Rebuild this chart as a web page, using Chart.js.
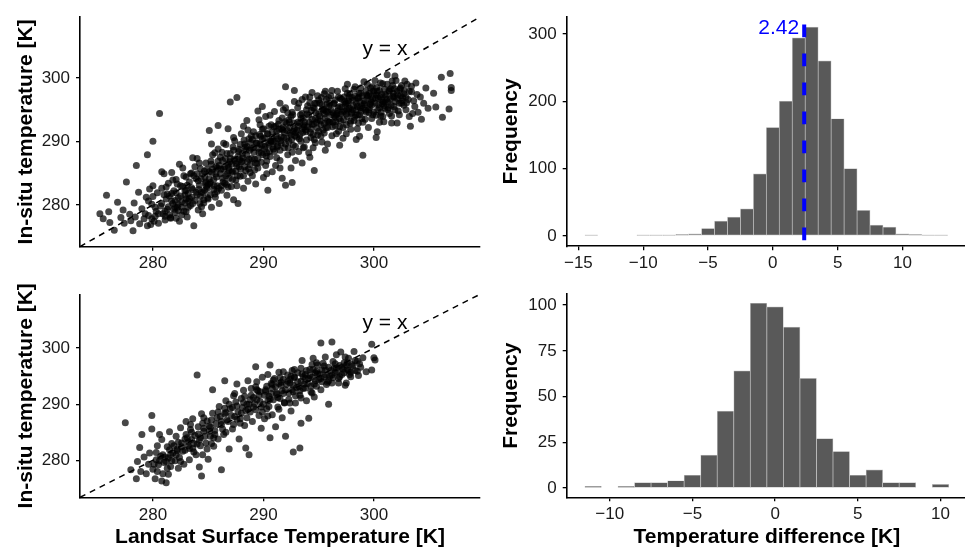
<!DOCTYPE html>
<html>
<head>
<meta charset="utf-8">
<script src="https://cdn.jsdelivr.net/npm/chart.js@4.4.1/dist/chart.umd.min.js"></script>
<style>
  html, body { margin: 0; padding: 0; background: #fff; width: 965px; height: 550px; overflow: hidden; }
  .panel { position: absolute; }
</style>
</head>
<body>
<div class="panel" style="left:0;top:0"><canvas id="scTop" width="490" height="280"></canvas></div>
<div class="panel" style="left:0;top:280px"><canvas id="scBot" width="490" height="270"></canvas></div>
<div class="panel" style="left:490px;top:0"><canvas id="hiTop" width="476" height="280"></canvas></div>
<div class="panel" style="left:490px;top:280px"><canvas id="hiBot" width="477" height="270"></canvas></div>
<script>
// Landsat LST vs in-situ temperature, [x, y] in K
const pointsTop = [
  [275.2,278.6],[275.8,281.5],[275.5,277.8],[276.1,277.2],[276.5,276.0],[276.0,278.9],
  [276.8,280.4],[277.1,278.0],[277.4,277.1],[277.6,283.6],[277.9,278.5],[277.3,279.2],[278.2,275.9],[278.0,277.5],[278.3,280.3],[278.5,286.2],[278.4,278.1],[278.7,282.0],
  [278.8,277.0],[279.0,279.4],[279.2,277.8],[279.4,281.2],[279.5,287.9],[279.6,278.3],[279.8,276.9],[279.9,280.1],[280.0,290.0],[280.0,283.0],[280.1,277.4],[280.3,279.0],[280.4,281.9],[280.2,278.2],[279.7,282.5],
  [280.6,294.4],[280.5,277.1],[280.7,279.8],[280.8,282.6],[280.9,278.6],[281.0,284.9],[281.1,277.6],[281.2,280.9],[281.3,279.3],[281.4,283.4],[281.5,281.4],[281.6,278.0],[280.8,285.2],
  [281.8,280.2],[281.9,282.2],[282.0,278.8],[282.1,284.0],[282.2,279.6],[282.3,281.1],[282.4,277.4],[282.5,283.0],[282.6,280.5],[282.7,285.8],[282.8,279.0],[282.9,282.2],[283.0,280.9],[283.0,284.4],[282.4,286.4],[281.7,285.1],
  [283.1,278.1],[283.2,281.8],[283.3,283.6],[283.4,279.9],[283.5,285.0],[283.6,282.4],[283.7,276.7],[283.8,280.7],[283.9,284.1],[284.0,287.3],[284.0,281.6],[284.1,279.2],[284.2,283.1],[284.3,285.7],[284.4,282.0],[284.5,278.6],[283.6,287.4],
  [284.6,280.3],[284.7,284.4],[284.8,286.6],[284.9,282.6],[285.0,280.9],[285.1,291.7],[285.1,285.2],[285.2,283.5],[285.3,279.6],[285.4,287.9],[285.5,284.0],[285.6,281.7],[285.7,286.0],[285.8,283.0],[285.9,292.5],[285.9,288.8],[286.0,280.2],[285.3,289.6],
  [286.1,284.9],[286.2,282.3],[286.3,287.0],[286.4,285.6],[286.5,283.4],[286.6,289.5],[286.7,281.5],[286.8,286.4],[286.9,284.2],[287.0,296.2],[287.0,288.1],[287.1,282.9],[287.2,285.3],[287.3,290.6],[287.4,287.0],[287.5,283.9],[286.8,292.0],[287.3,280.8],
  [287.6,296.9],[287.6,286.1],[287.7,280.2],[287.8,288.7],[287.9,284.5],[288.0,291.2],[288.1,286.9],[288.2,282.6],[288.3,289.6],[288.4,285.4],[288.5,293.3],[288.5,287.8],[288.6,283.7],[288.7,290.4],[288.8,286.3],[288.9,288.9],[289.0,284.6],[288.2,292.4],
  [289.1,291.5],[289.2,287.2],[289.3,283.3],[289.4,289.8],[289.5,294.8],[289.5,285.8],[289.6,288.3],[289.7,292.6],[289.8,286.7],[289.9,290.4],[290.0,284.3],[290.1,288.8],[290.2,293.9],[290.3,286.9],[290.4,282.3],[290.4,291.2],[290.5,289.5],[289.9,295.5],
  [290.6,287.6],[290.7,292.6],[290.8,285.2],[290.9,290.0],[291.0,294.7],[291.0,288.4],[291.1,286.2],[291.2,291.6],[291.3,289.3],[291.4,293.3],[291.5,287.0],[291.6,290.7],[291.7,284.2],[291.8,292.2],[291.9,289.0],[292.0,298.6],[292.0,283.1],[292.0,295.3],[291.5,296.0],
  [292.1,290.5],[292.2,287.9],[292.3,293.4],[292.4,291.3],[292.5,285.8],[292.6,294.6],[292.7,289.4],[292.8,298.0],[292.8,292.0],[292.9,287.0],[293.0,290.7],[293.1,295.3],[293.2,288.4],[293.3,292.9],[293.4,290.0],[293.5,296.6],[293.5,286.6],[292.6,283.5],
  [293.6,293.7],[293.7,289.1],[293.8,291.8],[293.9,295.0],[294.0,292.3],[294.1,288.2],[294.2,296.1],[294.3,290.6],[294.4,297.7],[294.4,293.5],[294.5,291.1],[294.6,285.4],[294.6,295.2],[294.7,289.8],[294.8,293.0],[294.9,297.2],[295.0,291.6],[295.0,294.3],[294.2,287.5],
  [295.1,296.0],[295.2,292.6],[295.3,289.9],[295.4,294.9],[295.5,297.5],[295.5,291.3],[295.6,293.7],[295.7,296.6],[295.8,289.6],[295.8,292.2],[295.9,295.4],[296.0,293.1],[296.1,297.2],[296.2,290.9],[296.3,294.5],[296.4,296.0],[296.5,292.5],[295.6,288.6],
  [296.6,294.2],[296.7,297.9],[296.8,291.6],[296.9,295.5],[297.0,293.2],[297.1,296.6],[297.2,290.5],[297.3,294.8],[297.4,298.3],[297.5,292.6],[297.5,296.0],[297.6,293.9],[297.7,295.1],[297.8,297.5],[297.9,291.9],[298.0,294.6],[296.9,289.4],[297.6,299.0],
  [298.1,296.5],[298.2,293.3],[298.3,298.6],[298.4,295.0],[298.5,292.0],[298.6,296.9],[298.7,290.8],[298.7,294.2],[298.8,297.6],[298.9,295.6],[299.0,287.8],[299.0,293.0],[299.1,299.4],[299.2,296.1],[299.3,294.6],[299.4,297.1],[299.5,292.2],[298.4,290.3],
  [299.6,295.3],[299.7,298.4],[299.8,293.6],[299.9,296.7],[300.0,294.6],[300.1,299.6],[300.2,297.3],[300.3,291.5],[300.4,295.8],[300.5,298.0],[300.6,294.0],[300.7,296.5],[300.8,299.1],[300.9,293.1],[301.0,297.4],[301.0,295.2],[300.2,290.6],
  [301.2,300.5],[301.3,296.2],[301.4,294.4],[301.5,298.3],[301.6,292.9],[301.7,297.1],[301.8,295.5],[302.0,299.6],[302.1,292.9],[302.1,296.8],[302.3,294.2],[302.4,298.4],[302.5,296.0],[301.9,300.3],
  [302.7,297.5],[302.9,295.0],[303.0,299.0],[303.2,293.9],[303.4,297.8],[303.6,296.4],[303.8,299.2],[304.0,294.6],[304.2,297.0],[304.5,296.0],[304.7,298.4],[304.9,295.2],[303.3,292.4],[304.3,293.5],
  [305.4,297.6],[305.6,295.4],[306.1,300.1],[306.2,293.8],[306.8,295.1],[306.9,300.7],[307.0,298.5],[307.0,298.0],
  // dense core
  [281.1,279.0],[281.3,281.7],[281.5,278.4],[281.7,280.6],[281.9,279.3],[281.2,282.8],[281.6,277.9],[281.8,283.9],
  [282.1,281.9],[282.3,279.1],[282.5,281.4],[282.7,282.9],[282.9,280.3],[282.2,283.3],[282.6,278.4],[282.8,284.6],[282.0,280.7],
  [283.1,283.1],[283.3,281.0],[283.5,282.7],[283.7,284.6],[283.9,282.0],[283.2,279.6],[283.6,280.2],[283.8,286.0],[283.4,284.9],[283.0,282.3],
  [284.1,283.8],[284.3,281.3],[284.5,284.9],[284.7,282.3],[284.9,285.6],[284.2,286.6],[284.6,280.8],[284.8,283.6],[284.4,279.7],[284.0,284.9],
  [285.1,284.1],[285.3,286.4],[285.5,282.4],[285.7,284.9],[285.9,286.9],[285.2,281.6],[285.6,288.2],[285.8,282.1],[285.4,285.6],[285.0,283.2],
  [286.1,287.5],[286.3,284.2],[286.5,286.0],[286.7,288.1],[286.9,285.4],[286.2,283.0],[286.6,284.6],[286.8,282.8],[286.4,289.7],[286.0,286.2],
  [287.1,286.4],[287.3,288.6],[287.5,285.3],[287.7,287.6],[287.9,289.5],[287.2,284.0],[287.6,283.0],[287.8,286.0],[287.4,290.1],[287.0,287.3],
  [288.1,288.1],[288.3,286.0],[288.5,289.2],[288.7,287.2],[288.9,290.9],[288.2,284.6],[288.6,291.8],[288.8,285.1],[288.4,288.6],[288.0,286.8],
  [289.1,289.0],[289.3,290.9],[289.5,287.3],[289.7,289.6],[289.9,291.9],[289.2,285.5],[289.6,293.4],[289.8,288.2],[289.4,286.5],[289.0,290.3],
  [290.1,290.5],[290.3,288.2],[290.5,292.4],[290.7,290.0],[290.9,288.8],[290.2,286.2],[290.6,294.1],[290.8,291.5],[290.4,289.8],[290.0,292.0],[290.3,284.9],
  [291.1,292.4],[291.3,290.4],[291.5,288.6],[291.7,293.7],[291.9,291.4],[291.2,287.4],[291.6,289.7],[291.8,295.0],[291.4,291.9],[291.0,290.0],[291.5,285.8],
  [292.1,292.8],[292.3,290.0],[292.5,293.9],[292.7,291.6],[292.9,289.2],[292.2,294.5],[292.6,288.3],[292.8,296.3],[292.4,292.2],[292.0,289.6],[292.5,291.0],
  [293.1,293.0],[293.3,291.0],[293.5,294.4],[293.7,292.3],[293.9,290.2],[293.2,296.0],[293.6,289.0],[293.8,297.0],[293.4,293.6],[293.0,291.8],[293.5,292.0],
  [294.1,294.1],[294.3,292.0],[294.5,295.3],[294.7,293.6],[294.9,291.0],[294.2,297.0],[294.6,290.3],[294.8,296.0],[294.4,292.7],[294.0,295.6],[294.5,289.0],
  [295.1,294.0],[295.3,295.8],[295.5,292.8],[295.7,294.7],[295.9,296.9],[295.2,290.8],[295.6,297.9],[295.8,293.2],[295.4,291.8],[295.0,296.5],[295.5,295.0],
  [296.1,295.0],[296.3,293.0],[296.5,296.5],[296.7,294.8],[296.9,292.3],[296.2,298.0],[296.6,291.2],[296.8,297.0],[296.4,294.0],[296.0,296.0],[296.5,293.8],
  [297.1,295.4],[297.3,297.0],[297.5,294.3],[297.7,296.4],[297.9,293.2],[297.2,292.2],[297.6,297.6],[297.8,295.2],[297.4,295.9],[297.0,294.3],[297.5,291.2],
  [298.1,295.0],[298.3,297.1],[298.5,294.2],[298.7,296.3],[298.9,293.6],[298.2,298.2],[298.6,292.9],[298.8,298.4],[298.4,296.0],[298.0,296.9],[298.5,295.5],
  [299.1,296.4],[299.3,298.0],[299.5,295.0],[299.7,296.6],[299.9,294.2],[299.2,293.5],[299.6,297.6],[299.8,295.7],[299.4,299.0],[299.0,295.2],[299.5,297.2],
  [300.1,296.0],[300.3,297.9],[300.5,295.3],[300.7,297.4],[300.9,295.6],[300.2,294.1],[300.6,299.2],[300.8,293.9],[300.4,296.8],[300.0,297.6],[300.5,293.0],
  [301.1,297.2],[301.3,295.3],[301.5,296.7],[301.7,298.8],[301.9,295.0],[301.2,299.0],[301.6,294.0],[301.8,297.0],[301.4,297.9],[301.0,296.2],
  [302.1,297.9],[302.3,296.0],[302.5,298.8],[302.7,295.7],[302.9,297.0],[302.2,294.8],[302.6,296.9],[302.8,299.5],[302.4,297.2],
  [303.1,296.6],[303.4,298.7],[303.7,295.5],[303.9,297.4],[303.2,297.9],[303.5,294.4],
  // darkest part of the band
  [284.15,282.4],[284.35,284.1],[284.55,281.9],[284.75,283.4],[284.95,281.1],[284.25,280.2],[284.65,285.3],[284.85,282.9],
  [285.15,283.3],[285.35,285.1],[285.55,283.0],[285.75,284.4],[285.95,282.6],[285.25,286.9],[285.65,281.2],[285.85,285.8],
  [286.15,285.6],[286.35,283.6],[286.55,287.3],[286.75,284.9],[286.95,286.8],[286.25,288.3],[286.65,283.2],[286.85,285.9],
  [287.15,285.1],[287.35,287.2],[287.55,286.5],[287.75,288.4],[287.95,285.6],[287.25,289.1],[287.65,284.6],[287.85,287.1],
  [288.15,287.4],[288.35,289.1],[288.55,286.8],[288.75,288.6],[288.95,287.3],[288.25,290.2],[288.65,285.7],[288.85,289.9],
  [289.15,288.3],[289.35,289.7],[289.55,288.9],[289.75,290.8],[289.95,287.9],[289.25,286.6],[289.65,291.1],[289.85,289.4],
  [290.15,289.2],[290.35,291.2],[290.55,288.4],[290.75,290.6],[290.95,292.3],[290.25,287.7],[290.65,290.1],[290.85,289.1],
  [291.15,290.9],[291.35,292.7],[291.55,290.1],[291.75,291.8],[291.95,293.1],[291.25,289.1],[291.65,292.0],[291.85,290.6],
  [292.15,291.7],[292.35,293.0],[292.55,290.3],[292.75,292.9],[292.95,291.4],[292.25,289.0],[292.65,294.2],[292.85,290.9],
  [293.15,292.4],[293.35,294.2],[293.55,291.4],[293.75,293.0],[293.95,294.3],[293.25,290.4],[293.65,292.6],[293.85,291.5],
  [294.15,293.0],[294.35,294.9],[294.55,292.7],[294.75,294.5],[294.95,293.4],[294.25,291.4],[294.65,296.0],[294.85,292.1],
  [295.15,293.2],[295.35,295.1],[295.55,294.3],[295.75,295.9],[295.95,293.0],[295.25,296.9],[295.65,292.2],[295.85,294.6],
  [296.15,294.2],[296.35,295.9],[296.55,293.1],[296.75,295.3],[296.95,296.8],[296.25,292.3],[296.65,294.4],[296.85,293.6],
  [297.15,294.6],[297.35,296.3],[297.55,295.0],[297.75,297.0],[297.95,294.4],[297.25,293.4],[297.65,296.0],[297.85,292.9],
  [298.15,295.6],[298.35,294.1],[298.55,296.8],[298.75,295.3],[298.95,297.2],[298.25,293.8],[298.65,297.6],[298.85,294.7],
  [299.15,295.8],[299.35,297.3],[299.55,294.5],[299.75,296.2],[299.95,297.9],[299.25,294.9],[299.65,295.9],[299.85,298.6],
  [300.15,296.8],[300.35,295.0],[300.55,297.0],[300.75,295.9],[300.95,298.2],[300.25,298.5],[300.65,294.6],[300.85,296.2],
  [301.15,296.6],[301.35,298.0],[301.55,295.7],[301.75,297.6],[301.95,296.3],[301.25,295.0],[301.65,299.5],[301.85,298.3],
  [302.15,297.3],[302.35,298.2],[302.55,296.4],[302.75,298.0],[302.95,296.1],
  [279.3,278.6],[279.6,280.6],[279.9,277.8],[280.2,279.6],[280.5,278.6],[280.8,280.2],[281.1,278.2],[281.4,279.7],[281.7,281.8],[282.0,279.6],
  [282.3,280.1],[282.6,279.6],[282.9,281.5],[283.2,280.6],[283.5,281.2],[280.0,281.3],[281.0,281.6],[282.1,277.9],[283.0,278.9],[279.5,276.7]
];
const pointsBot = [
  [277.5,286.7],[278.0,278.3],[278.5,276.7],[278.6,279.8],[278.8,282.3],[279.0,284.6],[278.9,278.0],[279.2,280.6],[279.4,277.6],[279.6,279.3],[279.9,288.0],[279.9,285.6],[279.7,281.3],
  [280.0,278.4],[280.2,276.7],[280.3,280.1],[280.4,282.6],[280.5,279.2],[280.6,284.6],[280.8,276.3],[280.8,283.7],[280.9,281.0],[281.0,279.6],[281.2,276.0],[281.3,282.4],[281.4,280.4],[281.5,285.1],
  [281.6,278.9],[281.7,283.0],[281.8,281.3],[282.0,279.9],[282.1,284.3],[282.2,282.0],[282.4,280.5],[282.5,285.8],[282.6,283.1],[282.8,279.3],[282.9,281.8],[283.0,284.6],[283.0,286.9],
  [283.2,282.6],[283.3,280.1],[283.4,285.5],[283.5,283.7],[283.6,287.4],[283.7,281.5],[283.8,284.4],[284.0,295.2],[284.0,282.9],[284.1,286.0],[284.2,278.8],[284.3,284.0],[284.4,277.2],[284.4,288.3],[284.5,281.0],
  [284.6,285.7],[284.8,283.1],[284.9,287.0],[285.0,280.2],[285.1,286.1],[285.2,284.3],[285.4,292.6],[285.4,288.4],[285.5,282.5],[285.6,285.3],[285.8,287.6],[285.9,283.8],[286.0,289.6],[286.2,278.3],[286.2,286.4],
  [286.4,284.6],[286.5,294.2],[286.5,288.3],[286.6,290.6],[286.8,286.9],[286.9,282.0],[287.0,289.2],[287.2,285.6],[287.3,291.5],[287.4,287.8],[287.6,293.6],[287.6,289.7],[287.8,283.8],[287.9,286.6],[288.0,291.0],[288.0,288.4],
  [288.2,292.5],[288.3,286.2],[288.4,282.2],[288.5,290.0],[288.6,294.2],[288.7,281.0],[288.8,288.6],[288.9,291.6],[289.0,286.9],[289.1,289.5],[289.3,296.7],[289.3,293.1],[289.4,290.8],[289.6,288.0],[289.7,292.2],[289.8,285.7],[289.9,294.8],[290.0,290.0],
  [290.1,287.4],[290.2,292.6],[290.3,289.2],[290.4,295.3],[290.5,291.4],[290.6,297.0],[290.6,284.0],[290.7,293.7],[290.8,288.1],[290.9,290.8],[291.0,294.6],[291.1,286.0],[291.2,292.0],[291.3,289.5],[291.4,295.7],[291.5,291.0],[291.6,293.4],[291.7,287.6],[291.8,294.4],[291.9,290.3],[292.0,284.3],[292.0,292.6],
  [292.2,295.2],[292.3,290.9],[292.4,293.8],[292.5,288.8],[292.6,296.0],[292.7,281.5],[292.7,292.2],[292.8,294.7],[292.9,290.2],[293.0,293.0],[293.1,295.6],[293.3,282.2],[293.3,291.6],[293.4,286.6],[293.4,294.1],[293.5,297.8],[293.6,292.8],[293.8,295.3],[293.9,290.6],[294.0,293.7],
  [294.1,287.5],[294.2,296.2],[294.3,292.2],[294.4,294.8],[294.5,298.2],[294.6,291.3],[294.7,295.6],[294.8,293.2],[294.9,297.0],[295.0,294.4],[295.2,300.9],[295.2,292.6],[295.3,296.1],[295.5,294.9],[295.6,298.4],[295.7,293.5],[295.9,290.0],[295.9,296.6],[296.0,295.0],
  [296.2,301.1],[296.2,293.8],[296.3,297.6],[296.5,295.6],[296.6,298.8],[296.8,294.6],[296.9,296.9],[297.0,299.3],[297.1,295.3],[297.3,297.4],[297.4,293.4],[297.5,293.8],[297.6,296.2],[297.7,298.2],[297.9,295.7],[298.0,297.1],
  [298.2,299.4],[298.3,296.0],[298.5,297.7],[298.6,295.1],[298.8,296.6],[299.0,298.3],[299.3,295.8],[299.8,300.7],[299.8,296.1],[300.1,297.9],[300.0,298.3],
  // dense core
  [280.1,279.3],[280.4,278.0],[280.7,280.7],[280.9,277.6],[280.3,281.4],[280.6,279.9],
  [281.1,280.6],[281.3,278.6],[281.5,281.9],[281.7,279.9],[281.9,282.6],[281.4,277.5],
  [282.1,281.0],[282.3,283.2],[282.5,279.8],[282.7,281.6],[282.9,283.8],[282.3,278.6],
  [283.1,284.0],[283.3,282.1],[283.5,285.0],[283.7,283.0],[283.9,281.0],[283.4,286.4],
  [284.1,284.7],[284.3,282.6],[284.5,286.6],[284.7,284.3],[284.9,282.0],[284.6,287.6],
  [285.1,285.2],[285.3,287.2],[285.5,284.0],[285.7,286.5],[285.9,288.6],[285.3,283.0],
  [286.1,287.8],[286.3,285.6],[286.5,289.3],[286.7,287.2],[286.9,290.0],[286.6,285.0],
  [287.1,288.0],[287.3,286.4],[287.5,290.4],[287.7,288.6],[287.9,287.4],[287.4,291.9],
  [288.1,289.4],[288.3,291.4],[288.5,287.6],[288.7,290.0],[288.9,292.8],[288.4,288.9],
  [289.1,291.2],[289.3,289.0],[289.5,292.4],[289.7,290.5],[289.9,288.6],[289.4,294.0],
  [290.1,291.6],[290.3,293.2],[290.5,289.6],[290.7,291.9],[290.9,294.3],[290.4,290.6],[290.8,292.8],
  [291.1,293.1],[291.3,291.2],[291.5,294.7],[291.7,292.4],[291.9,290.2],[291.4,293.7],[291.8,295.8],
  [292.1,293.5],[292.3,292.0],[292.5,295.0],[292.7,293.4],[292.9,291.5],[292.4,294.4],[292.8,296.2],
  [293.1,294.0],[293.3,292.4],[293.5,295.4],[293.7,293.6],[293.9,296.0],[293.4,291.1],[293.8,294.6],
  [294.1,294.6],[294.3,293.2],[294.5,296.2],[294.7,294.2],[294.9,295.4],[294.4,292.0],[294.8,297.4],
  [295.1,295.4],[295.3,294.0],[295.5,296.8],[295.7,295.2],[295.9,294.2],[295.4,297.3],
  [296.1,296.0],[296.3,294.7],[296.5,297.2],[296.7,295.8],[296.9,294.9],[296.4,296.4],
  [297.1,296.6],[297.3,295.6],[297.5,297.0],[297.7,296.0],[297.9,294.9],[297.4,298.4],
  [298.1,296.8],[298.3,297.8],[298.5,295.9],[298.7,297.2],
  [288.2,290.3],[288.6,289.1],[288.8,290.8],[289.2,290.1],[289.6,291.6],[289.8,289.5],[290.2,292.3],[290.6,290.9],[290.8,293.5],[291.2,291.8],
  [291.6,293.9],[291.8,291.9],[292.2,294.1],[292.6,292.6],[292.8,294.9],[293.2,293.1],[293.6,294.9],[293.8,292.9],[294.2,295.1],[294.6,293.6],
  [294.8,295.9],[295.2,294.6],[295.6,296.1],[295.8,293.9],[296.2,295.2],[296.6,296.5],[296.8,293.8],[297.2,296.3],[297.6,297.4],[297.8,295.3],
  [287.2,289.4],[287.6,287.3],[286.2,286.9],[286.6,288.5],[285.2,285.9],[285.6,284.6],[284.2,283.6],[284.6,285.2],[283.2,283.3],[283.6,282.1],
  [282.2,281.7],[282.6,282.4],[281.2,279.8],[281.6,281.0],[290.4,287.9],[291.4,289.1],[292.4,290.2],[293.4,296.4],[294.4,297.1],[289.4,292.6]
];

// temperature difference histograms (bin centres, counts)
const binsTop = [-14,-13,-12,-11,-10,-9,-8,-7,-6,-5,-4,-3,-2,-1,0,1,2,3,4,5,6,7,8,9,10,11,12,13];
const countsTop = [1,0,0,0,1,1,1,2,3,11,22,28,40,92,161,200,294,310,260,174,100,38,16,13,3,2,1,1];
const binsBot = [-11,-10,-9,-8,-7,-6,-5,-4,-3,-2,-1,0,1,2,3,4,5,6,7,8,9,10];
const countsBot = [1,0,1,3,3,4,7,18,42,64,101,99,88,60,27,20,7,10,3,3,0,2];
const meanDiff = 2.42;

// axis ranges / ticks
const tempRange = [273.4, 309.6];
const tempTicks = [280, 290, 300];
const diffRangeTop = [-15.9, 14.9];
const diffRangeBot = [-12.6, 11.6];
const diffTicksTop = [-15, -10, -5, 0, 5, 10];
const diffTicksBot = [-10, -5, 0, 5, 10];
const freqRangeTop = [-15.5, 325.5];
const freqRangeBot = [-5.05, 106.05];
const freqTicksTop = [0, 100, 200, 300];
const freqTicksBot = [0, 25, 50, 75, 100];

Chart.defaults.font.family = '"Liberation Sans", Arial, sans-serif';
Chart.defaults.color = '#1a1a1a';
Chart.defaults.animation = false;

const annot = {
  id: 'annot',
  afterDatasetsDraw(chart, args, opts) {
    if (!opts.items) return;
    const ctx = chart.ctx;
    opts.items.forEach(function (it) {
      ctx.save();
      ctx.font = it.font;
      ctx.fillStyle = it.color;
      ctx.textAlign = it.align;
      ctx.textBaseline = 'middle';
      const x = chart.scales.x.getPixelForValue(it.x) + (it.dx || 0);
      const y = chart.scales.y.getPixelForValue(it.y);
      ctx.fillText(it.text, x, y);
      ctx.restore();
    });
  }
};

function axis(range, ticks, o) {
  return {
    type: 'linear',
    min: range[0],
    max: range[1],
    offset: false,
    afterBuildTicks: function (s) { s.ticks = ticks.map(v => ({ value: v })); },
    afterFit: o.fit,
    border: { display: true, color: '#000', width: 1.6 },
    grid: { display: true, offset: false, drawOnChartArea: false, drawTicks: true, tickLength: 4, color: '#000', lineWidth: 1.3 },
    ticks: {
      font: { size: 17 }, color: '#1a1a1a', padding: o.pad, maxRotation: 0, autoSkip: false,
      callback: v => String(v).replace('-', '\u2212')
    },
    title: o.title
      ? { display: true, text: o.title, color: '#000', font: { size: 21, weight: 'bold' }, padding: o.tpad }
      : { display: false }
  };
}
const fixW = w => s => { s.width = w; s.paddingTop = 0; s.paddingBottom = 0; };
const fixH = h => s => { s.height = h; s.paddingLeft = 0; s.paddingRight = 0; };

function scatterChart(id, pts, padTop, xH, xTitle, xPad) {
  new Chart(document.getElementById(id), {
    type: 'scatter',
    data: {
      datasets: [{
        data: tempRange.map(v => ({ x: v, y: v })),
        showLine: true,
        borderColor: '#000',
        borderWidth: 1.5,
        borderDash: [6, 5],
        pointRadius: 0,
        order: 0
      }, {
        data: pts.map(p => ({ x: p[0], y: p[1] })),
        backgroundColor: 'rgba(0,0,0,0.72)',
        borderWidth: 0,
        pointRadius: 3.5,
        order: 1
      }]
    },
    options: {
      responsive: false,
      devicePixelRatio: 1,
      layout: { padding: { left: 0, top: padTop, right: 10, bottom: 0 } },
      plugins: {
        legend: { display: false },
        tooltip: { enabled: false },
        annot: { items: [{ text: 'y = x', x: 301, y: 304.5, align: 'center', font: '21px "Liberation Sans", Arial', color: '#000' }] }
      },
      scales: {
        x: axis(tempRange, tempTicks, { fit: fixH(xH), pad: xPad, title: xTitle, tpad: { top: 0, bottom: 0 } }),
        y: axis(tempRange, tempTicks, { fit: fixW(80), pad: 6, title: 'In-situ temperature [K]', tpad: { top: 14, bottom: 0 } })
      }
    },
    plugins: [annot]
  });
}

function histChart(id, bins, counts, xRange, xTicks, yRange, yTicks, padTop, xH, xTitle, xPad, withMean) {
  const datasets = [{
    type: 'bar',
    data: bins.map((b, i) => ({ x: b, y: counts[i] })),
    backgroundColor: '#595959',
    borderColor: '#c4c4c4',
    borderWidth: 0.7,
    borderSkipped: false,
    barPercentage: 1,
    categoryPercentage: 1,
    order: 1
  }];
  const items = [];
  if (withMean) {
    datasets.push({
      type: 'line',
      data: [{ x: meanDiff, y: 314 }, { x: meanDiff, y: yRange[0] }],
      borderColor: '#0000ff',
      borderWidth: 4,
      borderDash: [12.7, 16.3],
      pointRadius: 0,
      order: 0
    });
    items.push({ text: meanDiff.toFixed(2), x: meanDiff, y: 309, dx: -5, align: 'right', font: '21px "Liberation Sans", Arial', color: '#0000ff' });
  }
  new Chart(document.getElementById(id), {
    type: 'bar',
    data: { datasets: datasets },
    options: {
      responsive: false,
      devicePixelRatio: 1,
      layout: { padding: { left: 0, top: padTop, right: 0, bottom: 0 } },
      plugins: { legend: { display: false }, tooltip: { enabled: false }, annot: { items: items } },
      scales: {
        x: axis(xRange, xTicks, { fit: fixH(xH), pad: xPad, title: xTitle, tpad: { top: 0, bottom: 0 } }),
        y: axis(yRange, yTicks, { fit: fixW(76.7), pad: 6, title: 'Frequency', tpad: { top: 9, bottom: 0 } })
      }
    },
    plugins: [annot]
  });
}

scatterChart('scTop', pointsTop, 17, 33.3, null, 2);
scatterChart('scBot', pointsBot, 14.3, 52.7, 'Landsat Surface Temperature [K]', 3.5);
histChart('hiTop', binsTop, countsTop, diffRangeTop, diffTicksTop, freqRangeTop, freqTicksTop, 16.7, 33.7, null, 2.4, true);
histChart('hiBot', binsBot, countsBot, diffRangeBot, diffTicksBot, freqRangeBot, freqTicksBot, 14, 52.7, 'Temperature difference [K]', 3.3, false);
</script>
</body>
</html>
